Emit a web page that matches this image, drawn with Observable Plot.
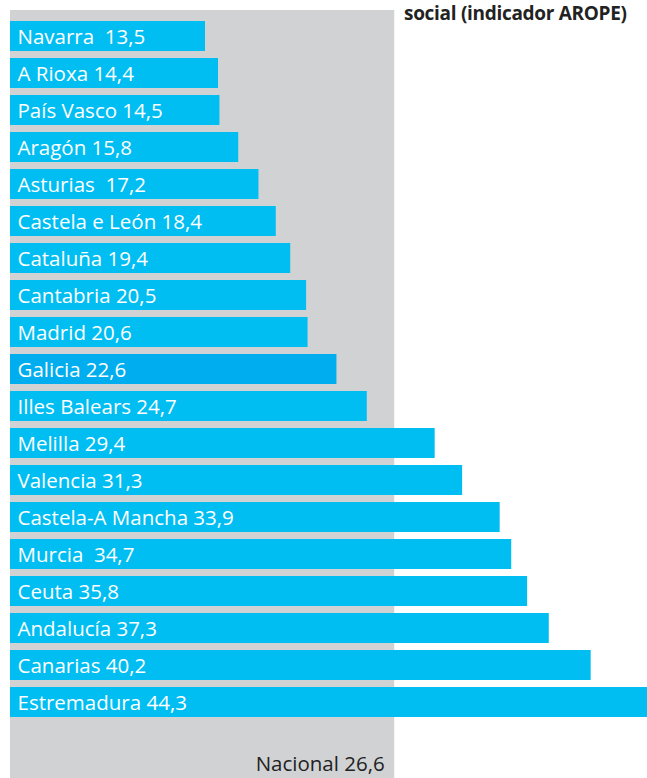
<!DOCTYPE html>
<html><head><meta charset="utf-8">
<script src="https://cdn.jsdelivr.net/npm/d3@7"></script>
<script src="https://cdn.jsdelivr.net/npm/@observablehq/plot@0.6"></script>
<style>
html,body{margin:0;padding:0;background:#fff;overflow:hidden;width:647px;height:778px}
#wrap{position:relative;width:647px;height:778px}
#title{position:absolute;left:404px;top:2px;width:240px;font-family:"Open Sans",sans-serif;font-weight:700;font-size:19px;line-height:22px;color:#222;white-space:nowrap;letter-spacing:-0.3px}
svg text{white-space:pre}
</style></head><body>
<div id="wrap"><div id="chart"></div><div id="title">social (indicador AROPE)</div></div>
<script>
const regions = ["Navarra","A Rioxa","País Vasco","Aragón","Asturias","Castela e León","Cataluña","Cantabria","Madrid","Galicia","Illes Balears","Melilla","Valencia","Castela-A Mancha","Murcia","Ceuta","Andalucía","Canarias","Estremadura"];
const values = [13.5,14.4,14.5,15.8,17.2,18.4,19.4,20.5,20.6,22.6,24.7,29.4,31.3,33.9,34.7,35.8,37.3,40.2,44.3];
const labels = ["Navarra  13,5","A Rioxa 14,4","País Vasco 14,5","Aragón 15,8","Asturias  17,2","Castela e León 18,4","Cataluña 19,4","Cantabria 20,5","Madrid 20,6","Galicia 22,6","Illes Balears 24,7","Melilla 29,4","Valencia 31,3","Castela-A Mancha 33,9","Murcia  34,7","Ceuta 35,8","Andalucía 37,3","Canarias 40,2","Estremadura 44,3"];
const nationalValue = 26.6;
const nationalLabel = "Nacional 26,6";
const highlight = "Galicia";

const data = regions.map((r,i)=>({region:r, value:values[i], label:labels[i]}));

const chart = Plot.plot({
  width: 647, height: 778,
  marginLeft: 10, marginRight: 0, marginTop: 12, marginBottom: 53,
  x: {domain:[0,44.1], axis:null},
  y: {domain: regions, axis:null, padding:0.19},
  style: {fontFamily:"Open Sans, sans-serif"},
  marks: [
    Plot.rectX([nationalValue], {x1:0, x2:d=>d, fill:"#d1d2d4", insetTop:-2, insetBottom:-53}),
    Plot.barX(data, {x:"value", y:"region", fill:d=>d.region===highlight?"#00aeef":"#00bef2", clip:true}),
    Plot.text(data, {x:0, y:"region", text:"label", textAnchor:"start", dx:7, dy:1, fill:"#fff", fontSize:20.5, lineAnchor:"middle"}),
    Plot.text([nationalValue], {x:d=>d, text:()=>nationalLabel, frameAnchor:"bottom", textAnchor:"end", dx:-10, dy:39, fill:"#222", fontSize:20.5, lineAnchor:"middle"})
  ]
});
document.getElementById("chart").appendChild(chart);
</script></body></html>
